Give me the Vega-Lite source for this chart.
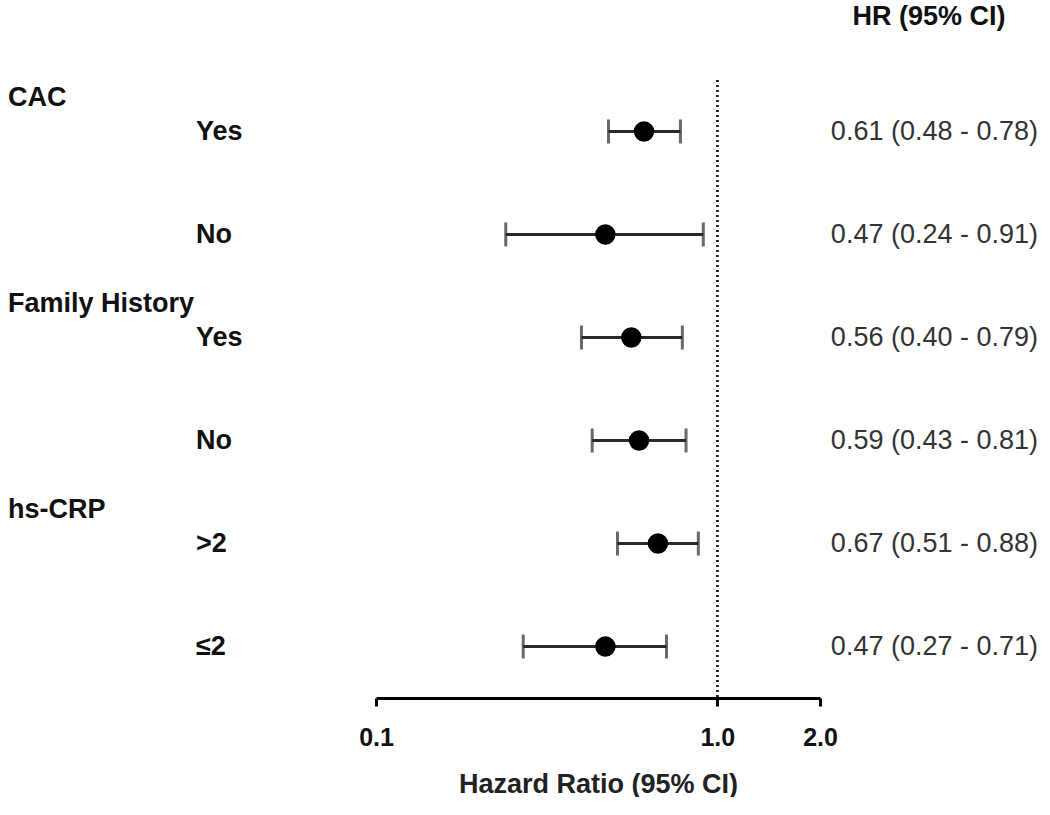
{
  "$schema": "https://vega.github.io/schema/vega-lite/v6.json",
  "padding": {"left": 0, "top": 3, "right": 0, "bottom": 0},
  "bounds": "flush",
  "spacing": 0,
  "background": "white",
  "config": {
    "view": {"stroke": null},
    "font": "Liberation Sans",
    "concat": {"spacing": 0}
  },
  "data": {
    "values": [
      {"id": "CAC Yes", "group": "CAC", "sub": "Yes", "first": true, "hr": 0.61, "lo": 0.48, "hi": 0.78, "txt": "0.61 (0.48 - 0.78)"},
      {"id": "CAC No", "group": "CAC", "sub": "No", "first": false, "hr": 0.47, "lo": 0.24, "hi": 0.91, "txt": "0.47 (0.24 - 0.91)"},
      {"id": "FH Yes", "group": "Family History", "sub": "Yes", "first": true, "hr": 0.56, "lo": 0.40, "hi": 0.79, "txt": "0.56 (0.40 - 0.79)"},
      {"id": "FH No", "group": "Family History", "sub": "No", "first": false, "hr": 0.59, "lo": 0.43, "hi": 0.81, "txt": "0.59 (0.43 - 0.81)"},
      {"id": "CRP >2", "group": "hs-CRP", "sub": ">2", "first": true, "hr": 0.67, "lo": 0.51, "hi": 0.88, "txt": "0.67 (0.51 - 0.88)"},
      {"id": "CRP <=2", "group": "hs-CRP", "sub": "≤2", "first": false, "hr": 0.47, "lo": 0.27, "hi": 0.71, "txt": "0.47 (0.27 - 0.71)"}
    ]
  },
  "hconcat": [
    {
      "width": 376,
      "height": 618,
      "encoding": {
        "y": {"field": "id", "type": "nominal", "sort": null, "axis": null, "scale": {"type": "point", "padding": 0.5}}
      },
      "layer": [
        {
          "mark": {"type": "text", "align": "left", "baseline": "middle", "fontSize": 27, "fontWeight": "bold", "color": "#111", "dy": -34},
          "encoding": {
            "x": {"value": 8},
            "text": {"condition": {"test": "datum.first", "field": "group"}, "value": ""}
          }
        },
        {
          "mark": {"type": "text", "align": "left", "baseline": "middle", "fontSize": 27, "fontWeight": "bold", "color": "#111"},
          "encoding": {
            "x": {"value": 196},
            "text": {"field": "sub"}
          }
        }
      ]
    },
    {
      "width": 444,
      "height": 618,
      "encoding": {
        "y": {"field": "id", "type": "nominal", "sort": null, "axis": null, "scale": {"type": "point", "padding": 0.5}}
      },
      "layer": [
        {
          "mark": {"type": "rule", "color": "#222", "strokeWidth": 2, "strokeDash": [2, 3]},
          "encoding": {"x": {"datum": 1, "type": "quantitative"}, "y": null}
        },
        {
          "mark": {"type": "rule", "color": "#2a2a2a", "strokeWidth": 3},
          "encoding": {
            "x": {
              "field": "lo", "type": "quantitative",
              "scale": {"type": "log", "domain": [0.1, 2], "nice": false},
              "axis": {
                "values": [0.1, 1, 2], "format": ".1f", "grid": false,
                "domainColor": "#000", "domainWidth": 3,
                "tickColor": "#000", "tickWidth": 3, "tickSize": 8,
                "labelFontSize": 25, "labelFontWeight": "bold", "labelColor": "#111",
                "labelPadding": 19, "labelFlush": false,
                "title": "Hazard Ratio (95% CI)", "titleFontSize": 27, "titleFontWeight": "bold", "titleColor": "#222",
                "titlePadding": 21
              }
            },
            "x2": {"field": "hi"}
          }
        },
        {
          "mark": {"type": "tick", "orient": "vertical", "color": "#2a2a2a", "size": 24, "thickness": 3},
          "encoding": {"x": {"field": "lo", "type": "quantitative"}}
        },
        {
          "mark": {"type": "tick", "orient": "vertical", "color": "#2a2a2a", "size": 24, "thickness": 3},
          "encoding": {"x": {"field": "hi", "type": "quantitative"}}
        },
        {
          "mark": {"type": "circle", "color": "#000", "opacity": 1, "size": 420},
          "encoding": {"x": {"field": "hr", "type": "quantitative"}}
        }
      ]
    },
    {
      "width": 218,
      "height": 618,
      "title": {"text": "HR (95% CI)", "fontSize": 27, "fontWeight": "bold", "color": "#111", "anchor": "middle", "offset": 49},
      "mark": {"type": "text", "align": "right", "baseline": "middle", "fontSize": 27, "color": "#333"},
      "encoding": {
        "x": {"value": "width"},
        "y": {"field": "id", "type": "nominal", "sort": null, "axis": null, "scale": {"type": "point", "padding": 0.5}},
        "text": {"field": "txt"}
      }
    }
  ]
}
